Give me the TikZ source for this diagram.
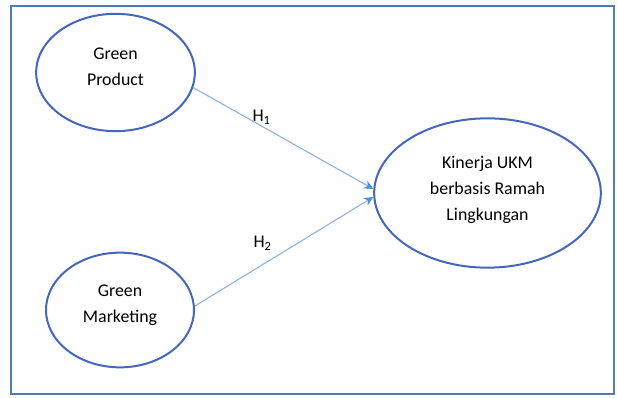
\documentclass[tikz,border=0pt]{standalone}
\usepackage{fontspec}
\setmainfont{Carlito}
\usetikzlibrary{positioning,shapes.geometric,arrows.meta}

\definecolor{framecol}{HTML}{4F7BAE}
\definecolor{ovalcol}{HTML}{4466BB}
\definecolor{linkcol}{HTML}{8AB0E0}
\definecolor{tipcol}{HTML}{4A8FE0}

\begin{document}
\begin{tikzpicture}[
% first : the style of the model
    x=0.75pt, y=-0.75pt,
    var/.style={
        ellipse,
        draw=ovalcol,
        line width=1.5pt,
        align=center,
        inner sep=0pt,
        text depth=9pt,
        font=\fontsize{13.4}{19.5}\selectfont
    },
    link/.style={
        draw=linkcol,
        line width=0.8pt,
        -{Stealth[length=7pt,width=6.5pt,color=tipcol]}
    },
    hyp/.style={
        font=\fontsize{13.4}{16}\selectfont,
        inner sep=1pt
    }
]
\useasboundingbox (0,0) rectangle (617,398);

% frame
\draw[framecol, line width=1.9pt] (11,6) rectangle (614,394);

% variables + text
\node[var, minimum width=119pt, minimum height=88pt] (product) at (115.5,72.5) {Green\\Product};
\node[var, minimum width=111pt, minimum height=86pt] (marketing) at (120,310) {Green\\Marketing};
\node[var, minimum width=170pt, minimum height=112pt, text depth=6.5pt] (kinerja) at (487.5,193) {Kinerja UKM\\berbasis Ramah\\Lingkungan};

% hypotheses
\draw[link] (product.-11) -- (kinerja.178) node[hyp, pos=0.38, above] {H\textsubscript{1}};
\draw[link] (marketing.3) -- (kinerja.182) node[hyp, pos=0.38, above=9pt] {H\textsubscript{2}};

\end{tikzpicture}
\end{document}
